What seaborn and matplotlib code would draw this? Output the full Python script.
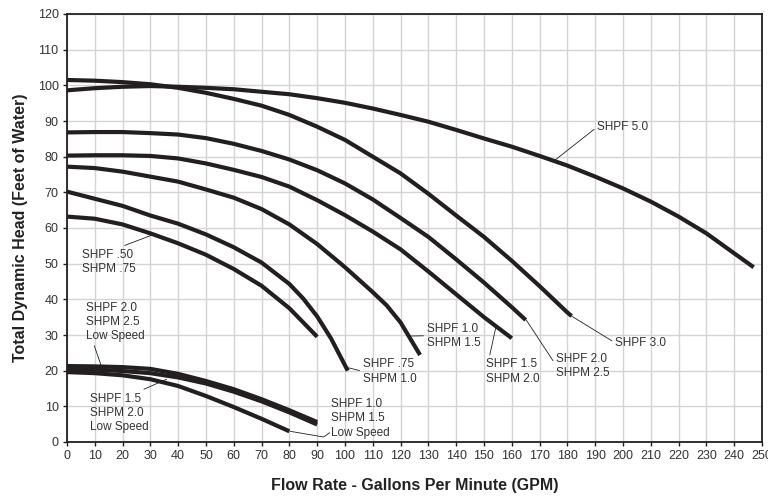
import matplotlib
matplotlib.use("Agg")
import matplotlib.pyplot as plt
import seaborn as sns

# Pump performance curves (GPM vs feet of head)
x_shpf50 = [0, 10, 20, 30, 40, 50, 60, 70, 80, 90, 100, 110, 120, 130, 140, 150,
            160, 170, 180, 190, 200, 210, 220, 230, 240, 247]
y_shpf50 = [98.6, 99.2, 99.6, 99.8, 99.6, 99.3, 98.9, 98.2, 97.5, 96.4, 95.1, 93.5, 91.7,
            89.8, 87.5, 85.1, 82.8, 80.2, 77.5, 74.4, 71.1, 67.4, 63.2, 58.5, 52.9, 49.0]

x_shpf30 = [0, 10, 20, 30, 40, 50, 60, 70, 80, 90, 100, 110, 120, 130, 140, 150, 160, 170, 180, 181.5]
y_shpf30 = [101.5, 101.3, 100.9, 100.3, 99.3, 97.9, 96.2, 94.3, 91.7, 88.4, 84.7, 80.0, 75.3,
            69.6, 63.5, 57.5, 50.8, 43.7, 36.3, 35.3]

x_shpf20 = [0, 10, 20, 30, 40, 50, 60, 70, 80, 90, 100, 110, 120, 130, 140, 150, 160, 165]
y_shpf20 = [86.8, 86.9, 86.9, 86.6, 86.2, 85.2, 83.6, 81.6, 79.2, 76.2, 72.5, 68.0, 62.8,
            57.5, 51.2, 44.7, 37.8, 34.2]

x_shpf15 = [0, 10, 20, 30, 40, 50, 60, 70, 80, 90, 100, 110, 120, 130, 140, 150, 160]
y_shpf15 = [80.3, 80.4, 80.4, 80.2, 79.5, 78.1, 76.3, 74.3, 71.6, 67.8, 63.6, 59.0, 54.0,
            47.8, 41.4, 35.0, 29.1]

x_shpf10 = [0, 10, 20, 30, 40, 50, 60, 70, 80, 90, 100, 110, 115, 120, 127]
y_shpf10 = [77.2, 76.8, 75.8, 74.4, 73.0, 70.8, 68.5, 65.3, 61.0, 55.5, 49.0, 42.0, 38.3, 33.5, 24.4]

x_shpf075 = [0, 10, 20, 30, 40, 50, 60, 70, 80, 85, 90, 95, 101]
y_shpf075 = [70.2, 68.2, 66.2, 63.5, 61.2, 58.2, 54.6, 50.3, 44.3, 40.2, 35.2, 29.0, 20.0]

x_shpf050 = [0, 10, 20, 30, 40, 50, 60, 70, 80, 90]
y_shpf050 = [63.2, 62.6, 61.0, 58.5, 55.7, 52.5, 48.5, 43.8, 37.5, 29.5]

x_low20 = [0, 10, 20, 30, 40, 50, 60, 70, 80, 90]
y_low20 = [21.3, 21.2, 21.0, 20.5, 19.1, 17.1, 14.8, 12.0, 8.9, 5.6]

x_low15 = [0, 10, 20, 30, 40, 50, 60, 70, 80, 90]
y_low15 = [20.4, 20.3, 19.9, 19.3, 18.1, 16.4, 14.1, 11.4, 8.3, 4.9]

x_low10 = [0, 10, 20, 30, 40, 50, 60, 70, 80]
y_low10 = [19.6, 19.3, 18.7, 17.6, 15.7, 12.9, 9.8, 6.5, 3.0]

curves = [
    (x_shpf50, y_shpf50), (x_shpf30, y_shpf30), (x_shpf20, y_shpf20),
    (x_shpf15, y_shpf15), (x_shpf10, y_shpf10), (x_shpf075, y_shpf075),
    (x_shpf050, y_shpf050), (x_low20, y_low20), (x_low15, y_low15), (x_low10, y_low10),
]

sns.set_style("whitegrid")
plt.rcParams['font.family'] = ['Liberation Sans', 'DejaVu Sans']

fig = plt.figure(figsize=(7.68, 5), dpi=100)
ax = fig.add_axes([0.0872, 0.116, 0.905, 0.856])

line_color = '#231f20'
for xs, ys in curves:
    sns.lineplot(x=xs, y=ys, ax=ax, color=line_color, lw=3, sort=False,
                 solid_capstyle='butt', solid_joinstyle='round', legend=False)

ax.set_xlim(0, 250)
ax.set_ylim(0, 120)
ax.set_xticks(range(0, 251, 10))
ax.set_yticks(range(0, 121, 10))
ax.grid(True, color='#d4d4d4', lw=1)
for s in ax.spines.values():
    s.set_visible(True)
    s.set_color('#231f20')
    s.set_linewidth(1.3)
ax.tick_params(axis='both', labelsize=9, labelcolor='#333333', length=3,
               width=1, color='#231f20', direction='out', pad=3,
               bottom=True, left=True)

ax.set_xlabel('Flow Rate - Gallons Per Minute (GPM)', fontsize=11.5,
              fontweight='bold', color='#222222', labelpad=11)
ax.set_ylabel('Total Dynamic Head (Feet of Water)', fontsize=11.5,
              fontweight='bold', color='#222222', labelpad=7)

# Labels with thin leader lines
notes = [
    ('SHPF 5.0', (175.5, 79.0), (190.8, 88.4)),
    ('SHPF 3.0', (181.5, 35.3), (197.2, 27.8)),
    ('SHPF 2.0\nSHPM 2.5', (165.2, 34.2), (176.0, 21.4)),
    ('SHPF 1.5\nSHPM 2.0', (154.3, 32.3), (150.8, 19.8)),
    ('SHPF 1.0\nSHPM 1.5', (122.9, 29.7), (129.4, 29.8)),
    ('SHPF .75\nSHPM 1.0', (101.3, 20.8), (106.4, 19.8)),
    ('SHPF .50\nSHPM .75', (30.5, 58.0), (5.3, 50.5)),
    ('SHPF 2.0\nSHPM 2.5\nLow Speed', (12.3, 21.4), (6.9, 33.6)),
    ('SHPF 1.5\nSHPM 2.0\nLow Speed', (35.9, 17.6), (8.3, 8.2)),
]
for text, xy, xytext in notes:
    ax.annotate(text, xy=xy, xytext=xytext, fontsize=8.5, color='#333333',
                ha='left', va='center', linespacing=1.25,
                arrowprops=dict(arrowstyle='-', lw=0.6, color='#231f20',
                                shrinkA=0, shrinkB=0, relpos=(0, 0.5)))

# Low speed 1.0 label with hooked leader
ax.text(94.9, 6.6, 'SHPF 1.0\nSHPM 1.5\nLow Speed', fontsize=8.5, color='#333333',
        ha='left', va='center', linespacing=1.25)
ax.plot([80.3, 92.3, 94.5], [3.0, 1.4, 2.6], color='#231f20', lw=0.6)

fig.savefig('out.png', dpi=100)
plt.close(fig)
